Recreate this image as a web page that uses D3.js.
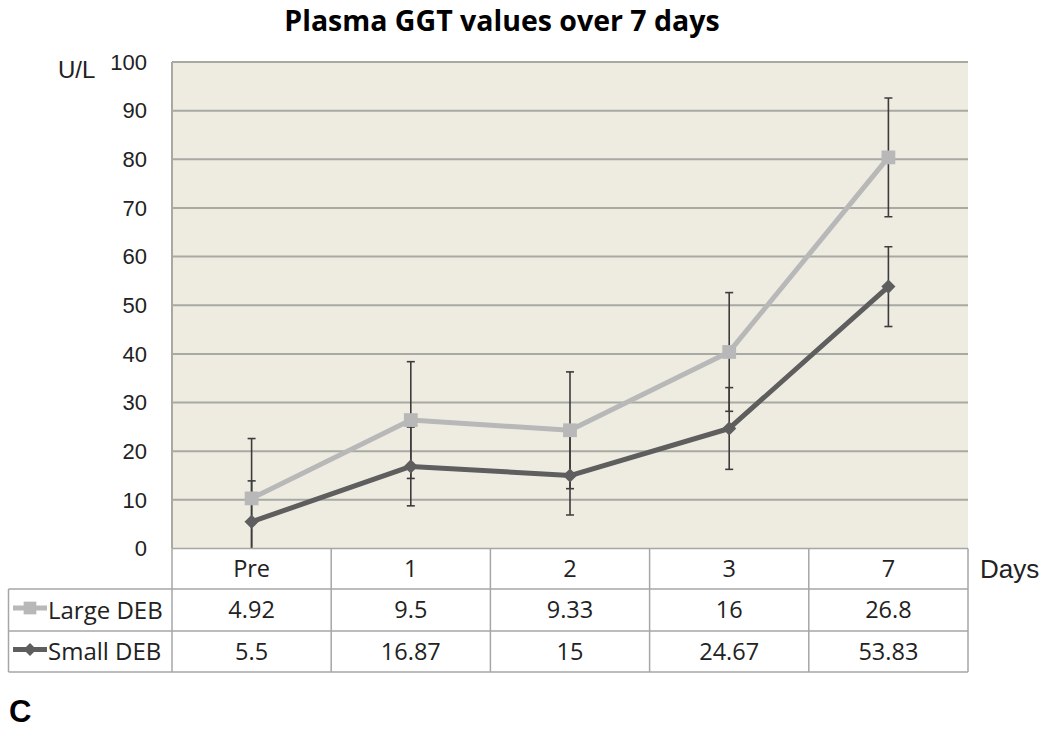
<!DOCTYPE html>
<html>
<head>
<title>Plasma GGT values over 7 days</title>
<script src="https://d3js.org/d3.v7.min.js"></script>
<style>
  body { margin: 0; background: #fff; }
  .tick-label { font-family: "Liberation Sans", Arial, sans-serif; font-size: 22px; fill: #222; }
  .cell { font-family: "Open Sans", "Noto Sans", sans-serif; font-size: 23.5px; fill: #222; }
</style>
</head>
<body>
<svg width="1050" height="744"></svg>
<script>
var days = ["Pre", "1", "2", "3", "7"];
var largeMean = [10.3, 26.4, 24.3, 40.4, 80.4];
var smallMean = [5.5, 16.87, 15, 24.67, 53.83];
var largeErr = [12.3, 12, 12, 12.2, 12.2];
var smallErr = [8.4, 8.1, 8.1, 8.4, 8.2];
var largeTable = ["4.92", "9.5", "9.33", "16", "26.8"];
var smallTable = ["5.5", "16.87", "15", "24.67", "53.83"];
var yTicks = [0, 10, 20, 30, 40, 50, 60, 70, 80, 90, 100];

var svg = d3.select("svg");
var plotLeft = 172, plotRight = 968, plotTop = 62, plotBottom = 548.5;
var x = d3.scaleBand().domain(days).range([plotLeft, plotRight]);
var y = d3.scaleLinear().domain([0, 100]).range([plotBottom, plotTop]);

var series = [
  {name: "Large DEB", mean: largeMean, err: largeErr, table: largeTable, color: "#b8b8b8", rot: 0, size: 190},
  {name: "Small DEB", mean: smallMean, err: smallErr, table: smallTable, color: "#5e5e5e", rot: 45, size: 100}
];

// title
svg.append("text").attr("x", 502).attr("y", 31).attr("text-anchor", "middle")
  .style("font-family", "'Open Sans', sans-serif").style("font-weight", "bold").style("font-size", "28.5px")
  .text("Plasma GGT values over 7 days");

// plot area
svg.append("rect").attr("x", plotLeft).attr("y", plotTop).attr("width", plotRight - plotLeft).attr("height", plotBottom - plotTop)
  .attr("fill", "#eeece1");

svg.append("g").selectAll("line").data(yTicks.filter(d => d > 0)).enter().append("line")
  .attr("x1", plotLeft).attr("x2", plotRight).attr("y1", d => y(d)).attr("y2", d => y(d))
  .attr("stroke", "#a9a9a4").attr("stroke-width", 2);

svg.append("line").attr("x1", plotLeft).attr("x2", plotLeft).attr("y1", plotTop).attr("y2", plotBottom)
  .attr("stroke", "#a9a9a4").attr("stroke-width", 2);

svg.append("g").selectAll("text").data(yTicks).enter().append("text")
  .attr("class", "tick-label").attr("x", 147).attr("y", d => y(d)).attr("dy", "0.35em")
  .attr("text-anchor", "end").text(d => d);

svg.append("text").attr("class", "tick-label").attr("x", 58).attr("y", 78)
  .style("font-size", "24px").text("U/L");

var clip = svg.append("clipPath").attr("id", "plotclip");
clip.append("rect").attr("x", plotLeft).attr("y", plotTop - 20).attr("width", plotRight - plotLeft).attr("height", plotBottom - plotTop + 20);

var plot = svg.append("g").attr("clip-path", "url(#plotclip)");
var cx = d => x(d) + x.bandwidth() / 2;

// error bars
series.forEach(function(s) {
  var eb = plot.append("g").attr("stroke", "#3c3c3c").attr("stroke-width", 1.6);
  days.forEach(function(d, i) {
    var hi = s.mean[i] + s.err[i], lo = s.mean[i] - s.err[i];
    eb.append("line").attr("x1", cx(d)).attr("x2", cx(d)).attr("y1", y(hi)).attr("y2", y(lo));
    [hi, lo].forEach(function(v) {
      if (v > 0) eb.append("line").attr("x1", cx(d) - 4).attr("x2", cx(d) + 4).attr("y1", y(v)).attr("y2", y(v));
    });
  });
});

// lines and markers
series.forEach(function(s) {
  var line = d3.line().x((d, i) => cx(days[i])).y(d => y(d));
  plot.append("path").datum(s.mean).attr("d", line).attr("fill", "none")
    .attr("stroke", s.color).attr("stroke-width", 5).attr("stroke-linejoin", "round");
  plot.append("g").selectAll("path").data(s.mean).enter().append("path")
    .attr("transform", (d, i) => "translate(" + cx(days[i]) + "," + y(d) + ") rotate(" + s.rot + ")")
    .attr("d", d3.symbol().type(d3.symbolSquare).size(s.size))
    .attr("fill", s.color);
});

// data table
var rowY = [plotBottom, 589, 631, 672];
var tableLeft = 8.5;
var tg = svg.append("g").attr("stroke", "#a6a6a6").attr("stroke-width", 1.5).attr("fill", "none");
tg.append("line").attr("x1", plotLeft).attr("x2", plotRight).attr("y1", rowY[0]).attr("y2", rowY[0]);
[1, 2, 3].forEach(function(r) {
  tg.append("line").attr("x1", tableLeft).attr("x2", plotRight).attr("y1", rowY[r]).attr("y2", rowY[r]);
});
tg.append("line").attr("x1", tableLeft).attr("x2", tableLeft).attr("y1", rowY[1]).attr("y2", rowY[3]);
days.forEach(function(d) {
  tg.append("line").attr("x1", x(d)).attr("x2", x(d)).attr("y1", rowY[0]).attr("y2", rowY[3]);
});
tg.append("line").attr("x1", plotRight).attr("x2", plotRight).attr("y1", rowY[0]).attr("y2", rowY[3]);

svg.append("g").selectAll("text").data(days).enter().append("text")
  .attr("class", "cell").attr("x", cx).attr("y", (rowY[0] + rowY[1]) / 2).attr("dy", "0.36em")
  .attr("text-anchor", "middle").text(d => d);

series.forEach(function(s, r) {
  var ym = (rowY[r + 1] + rowY[r + 2]) / 2;
  svg.append("g").selectAll("text").data(s.table).enter().append("text")
    .attr("class", "cell").attr("x", (d, i) => cx(days[i])).attr("y", ym).attr("dy", "0.36em")
    .attr("text-anchor", "middle").text(d => d);
  svg.append("line").attr("x1", 13).attr("x2", 47).attr("y1", ym - 2).attr("y2", ym - 2)
    .attr("stroke", s.color).attr("stroke-width", 5);
  svg.append("path").attr("transform", "translate(30," + (ym - 2) + ") rotate(" + s.rot + ")")
    .attr("d", d3.symbol().type(d3.symbolSquare).size(s.size * 0.85))
    .attr("fill", s.color);
  svg.append("text").attr("class", "cell").attr("x", 48).attr("y", ym).attr("dy", "0.36em")
    .style("font-size", "24px").text(s.name);
});

svg.append("text").attr("class", "tick-label").attr("x", 980).attr("y", 578)
  .style("font-size", "26px").text("Days");

svg.append("text").attr("x", 9).attr("y", 722)
  .style("font-family", "'Liberation Sans', Arial, sans-serif").style("font-weight", "bold").style("font-size", "31px")
  .text("C");
</script>
</body>
</html>
